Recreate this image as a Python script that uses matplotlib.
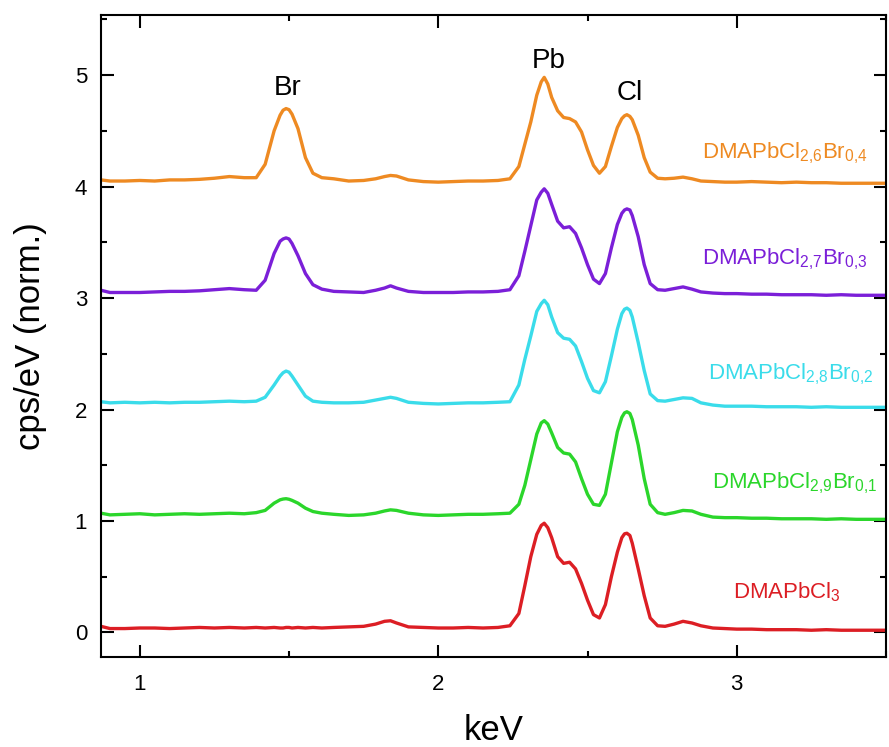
from __future__ import annotations

import matplotlib

matplotlib.use("Agg")
import matplotlib.pyplot as plt
import matplotlib.ticker as ticker

plt.rcParams["font.family"] = ["Liberation Sans", "DejaVu Sans"]
plt.rcParams["mathtext.default"] = "regular"
plt.rcParams["xtick.labelsize"] = 16
plt.rcParams["ytick.labelsize"] = 16

# energy axis shared by all spectra (keV)
energy_kev = [
    0.87, 0.90, 0.95, 1.00, 1.05, 1.10, 1.15, 1.20, 1.25, 1.30,
    1.35, 1.39, 1.42, 1.45, 1.47, 1.48, 1.49, 1.50, 1.51, 1.53,
    1.555, 1.58, 1.61, 1.65, 1.70, 1.75, 1.79, 1.82, 1.84, 1.86,
    1.90, 1.95, 2.00, 2.05, 2.10, 2.15, 2.20, 2.24, 2.27, 2.29,
    2.31, 2.33, 2.345, 2.355, 2.367, 2.38, 2.40, 2.42, 2.44, 2.46,
    2.48, 2.50, 2.52, 2.54, 2.56, 2.58, 2.60, 2.615, 2.624, 2.632,
    2.642, 2.65, 2.67, 2.69, 2.71, 2.735, 2.76, 2.79, 2.82, 2.85,
    2.88, 2.92, 2.96, 3.00, 3.05, 3.10, 3.15, 3.20, 3.25, 3.30,
    3.35, 3.40, 3.45, 3.50,
]

# normalised spectra, already stacked with their vertical offsets
cl3 = [
    0.055, 0.035, 0.035, 0.040, 0.040, 0.035, 0.040, 0.045, 0.040, 0.045,
    0.040, 0.045, 0.040, 0.045, 0.040, 0.040, 0.045, 0.045, 0.040, 0.045,
    0.040, 0.045, 0.040, 0.045, 0.050, 0.055, 0.075, 0.100, 0.105, 0.085,
    0.050, 0.045, 0.040, 0.040, 0.045, 0.040, 0.045, 0.060, 0.170, 0.420,
    0.680, 0.880, 0.960, 0.980, 0.940, 0.850, 0.680, 0.620, 0.630, 0.570,
    0.440, 0.290, 0.160, 0.130, 0.250, 0.500, 0.720, 0.850, 0.885, 0.890,
    0.870, 0.800, 0.570, 0.330, 0.130, 0.060, 0.055, 0.075, 0.100, 0.085,
    0.060, 0.040, 0.035, 0.030, 0.030, 0.025, 0.025, 0.025, 0.020, 0.025,
    0.020, 0.020, 0.020, 0.020,
]
cl29_br01 = [
    1.070, 1.055, 1.060, 1.065, 1.055, 1.060, 1.065, 1.060, 1.065, 1.070,
    1.065, 1.075, 1.095, 1.160, 1.190, 1.197, 1.200, 1.195, 1.185, 1.160,
    1.115, 1.085, 1.070, 1.060, 1.050, 1.055, 1.070, 1.090, 1.100, 1.095,
    1.070, 1.055, 1.050, 1.055, 1.060, 1.060, 1.065, 1.070, 1.150, 1.320,
    1.550, 1.780, 1.880, 1.900, 1.870, 1.790, 1.660, 1.610, 1.600, 1.530,
    1.380, 1.240, 1.150, 1.140, 1.240, 1.520, 1.800, 1.930, 1.970, 1.980,
    1.965, 1.910, 1.680, 1.380, 1.150, 1.075, 1.060, 1.075, 1.095, 1.090,
    1.060, 1.035, 1.030, 1.030, 1.025, 1.025, 1.020, 1.020, 1.020, 1.015,
    1.020, 1.015, 1.015, 1.015,
]
cl28_br02 = [
    2.070, 2.060, 2.065, 2.060, 2.065, 2.060, 2.065, 2.065, 2.070, 2.075,
    2.070, 2.075, 2.110, 2.220, 2.300, 2.330, 2.345, 2.335, 2.300, 2.220,
    2.120, 2.075, 2.065, 2.060, 2.060, 2.065, 2.085, 2.100, 2.110, 2.100,
    2.065, 2.055, 2.050, 2.055, 2.060, 2.060, 2.065, 2.070, 2.220, 2.450,
    2.660, 2.880, 2.950, 2.980, 2.940, 2.830, 2.690, 2.640, 2.630, 2.570,
    2.430, 2.280, 2.170, 2.150, 2.250, 2.480, 2.720, 2.860, 2.900, 2.910,
    2.890, 2.830, 2.600, 2.350, 2.140, 2.080, 2.075, 2.090, 2.105, 2.100,
    2.060, 2.040, 2.030, 2.030, 2.030, 2.025, 2.025, 2.025, 2.020, 2.025,
    2.020, 2.020, 2.020, 2.020,
]
cl27_br03 = [
    3.070, 3.050, 3.050, 3.050, 3.055, 3.060, 3.060, 3.065, 3.075, 3.085,
    3.075, 3.070, 3.160, 3.400, 3.510, 3.530, 3.540, 3.530, 3.490, 3.380,
    3.220, 3.120, 3.080, 3.060, 3.055, 3.050, 3.070, 3.090, 3.110, 3.090,
    3.060, 3.050, 3.050, 3.050, 3.055, 3.055, 3.060, 3.075, 3.200, 3.420,
    3.650, 3.880, 3.950, 3.980, 3.940, 3.840, 3.690, 3.630, 3.640, 3.580,
    3.450, 3.300, 3.170, 3.130, 3.220, 3.450, 3.660, 3.760, 3.790, 3.800,
    3.790, 3.740, 3.550, 3.300, 3.130, 3.075, 3.070, 3.085, 3.100, 3.080,
    3.055, 3.045, 3.040, 3.040, 3.035, 3.035, 3.030, 3.030, 3.030, 3.025,
    3.030, 3.025, 3.025, 3.025,
]
cl26_br04 = [
    4.060, 4.050, 4.050, 4.055, 4.050, 4.060, 4.060, 4.065, 4.075, 4.090,
    4.080, 4.080, 4.200, 4.500, 4.640, 4.685, 4.700, 4.690, 4.650, 4.520,
    4.260, 4.120, 4.080, 4.070, 4.050, 4.055, 4.070, 4.090, 4.100, 4.095,
    4.060, 4.045, 4.040, 4.045, 4.050, 4.050, 4.055, 4.070, 4.180, 4.380,
    4.580, 4.820, 4.940, 4.980, 4.920, 4.800, 4.680, 4.620, 4.610, 4.580,
    4.490, 4.330, 4.190, 4.120, 4.180, 4.360, 4.530, 4.610, 4.635, 4.645,
    4.630, 4.600, 4.460, 4.260, 4.130, 4.075, 4.070, 4.075, 4.085, 4.070,
    4.050, 4.045, 4.040, 4.040, 4.045, 4.040, 4.035, 4.040, 4.035, 4.035,
    4.030, 4.030, 4.030, 4.030,
]

sample_labels = [
    "DMAPbCl$_3$",
    "DMAPbCl$_{2{,}9}$Br$_{0{,}1}$",
    "DMAPbCl$_{2{,}8}$Br$_{0{,}2}$",
    "DMAPbCl$_{2{,}7}$Br$_{0{,}3}$",
    "DMAPbCl$_{2{,}6}$Br$_{0{,}4}$",
]
sample_colors = ["#DC1E24", "#2BD62B", "#3ADCEA", "#7B1FD8", "#EE8A22"]
# where each sample name sits (keV, baseline in cps/eV)
label_x = [2.988, 2.917, 2.904, 2.884, 2.884]
label_y = [0.305, 1.29, 2.27, 3.30, 4.25]

peak_names = ["Br", "Pb", "Cl"]
peak_x = [1.495, 2.370, 2.642]
peak_y = [4.82, 5.06, 4.775]


def main() -> None:
    spectra = [cl3, cl29_br01, cl28_br02, cl27_br03, cl26_br04]

    fig = plt.figure(figsize=(8.89, 7.47), dpi=100)
    ax = fig.add_axes([0.1136, 0.1205, 0.8830, 0.8595])

    for values, color in zip(spectra, sample_colors):
        ax.plot(energy_kev, values, color=color, linewidth=2.4,
                solid_joinstyle="round")

    for text, x, y, color in zip(sample_labels, label_x, label_y, sample_colors):
        ax.text(x, y, text, color=color, fontsize=16, ha="left", va="baseline")

    for name, x, y in zip(peak_names, peak_x, peak_y):
        ax.text(x, y, name, color="black", fontsize=20, ha="center", va="baseline")

    ax.set_xlim(0.87, 3.5)
    ax.set_ylim(-0.22, 5.54)
    ax.xaxis.set_major_locator(ticker.MultipleLocator(1))
    ax.xaxis.set_minor_locator(ticker.MultipleLocator(0.5))
    ax.yaxis.set_major_locator(ticker.MultipleLocator(1))
    ax.yaxis.set_minor_locator(ticker.MultipleLocator(0.5))

    ax.tick_params(which="both", direction="in", top=True, right=True, width=1.5)
    ax.tick_params(which="major", length=9)
    ax.tick_params(which="minor", length=4.5)
    ax.tick_params(axis="x", which="major", pad=12, labelsize=16)
    ax.tick_params(axis="y", which="major", pad=10, labelsize=16)
    for spine in ax.spines.values():
        spine.set_linewidth(1.5)

    ax.set_xlabel("keV", fontsize=25)
    ax.set_ylabel("cps/eV (norm.)", fontsize=25)
    ax.xaxis.set_label_coords(0.5, -0.089)
    ax.yaxis.set_label_coords(-0.069, 0.5)

    fig.savefig("out.png", dpi=100)
    plt.close(fig)


if __name__ == "__main__":
    main()
